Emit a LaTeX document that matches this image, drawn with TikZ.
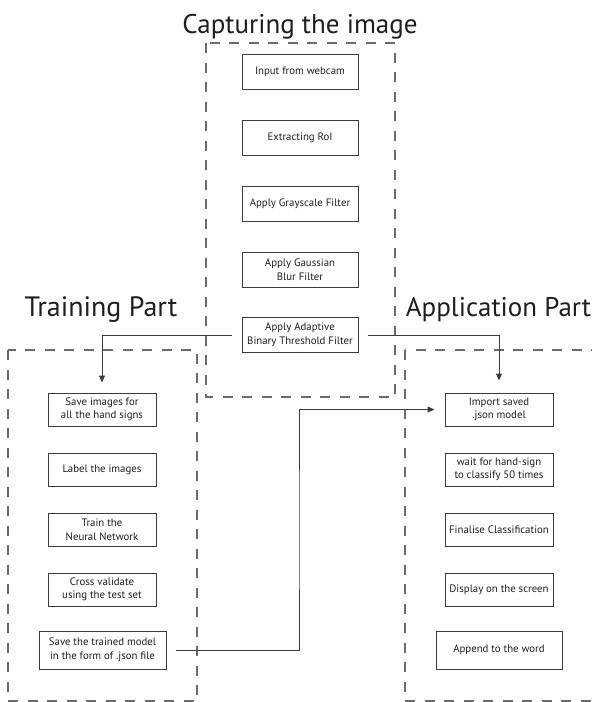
\documentclass[tikz,border=0pt]{standalone}
\usepackage{fontspec}
\setmainfont{PT Sans}
\usetikzlibrary{arrows.meta}
\definecolor{boxline}{HTML}{3C3C3C}
\definecolor{dashline}{HTML}{6A6A6A}
\definecolor{txt}{HTML}{1E1E1E}
\begin{document}
\begin{tikzpicture}[x=1pt,y=-1pt,
  stepbox/.style={draw=boxline,line width=1pt,rectangle,inner sep=1pt,align=center,
     font=\fontsize{10.8}{13.5}\selectfont,text=txt,minimum width=108pt,minimum height=33pt},
  capbox/.style={stepbox,minimum width=116pt,minimum height=35pt},
  title/.style={font=\fontsize{27}{30}\selectfont,text=txt,anchor=base,inner sep=0pt},
  frame/.style={draw=dashline,line width=1.1pt,dash pattern=on 10pt off 9.5pt},
  arr/.style={draw=boxline,line width=1pt,-{Triangle[length=7pt,width=6pt]}}]
\useasboundingbox (0,0) rectangle (592,702);
\begin{scope}
\clip (0,0) rectangle (592,702);
\draw[frame] (206,43) rectangle (395,397);
\draw[frame] (8,350) rectangle (197,701);
\draw[frame] (405,350) rectangle (620,701);
\end{scope}
\node[title] (tcap) at (300,33.5) {Capturing the image};
\node[title,font=\fontsize{28}{30}\selectfont] (ttrain) at (101,316) {Training Part};
\node[title] (tapp) at (498.5,316) {Application Part};
% capturing
\node[capbox] (webcam) at (300,71.5) {Input from webcam};
\node[capbox] (roi) at (300,137.5) {Extracting RoI};
\node[capbox] (gray) at (300,203.5) {Apply Grayscale Filter};
\node[capbox] (gauss) at (300,269.5) {Apply Gaussian\\Blur Filter};
\node[capbox] (adapt) at (300,335) {Apply Adaptive\\Binary Threshold Filter};
% training
\node[stepbox] (save1) at (102,409.5) {Save images for\\all the hand signs};
\node[stepbox] (label) at (102,469.5) {Label the images};
\node[stepbox] (trainnn) at (102,529.5) {Train the\\Neural Network};
\node[stepbox] (cross) at (102,589.5) {Cross validate\\using the test set};
\node[stepbox,minimum width=127pt,minimum height=38pt] (savemodel) at (102.5,650) {Save the trained model\\in the form of .json file};
% application
\node[stepbox] (import) at (499,409.5) {Import saved\\.json model};
\node[stepbox] (wait) at (499,469.5) {wait for hand-sign\\to classify 50 times};
\node[stepbox] (final) at (499,529.5) {Finalise Classification};
\node[stepbox] (display) at (499,589.5) {Display on the screen};
\node[stepbox,minimum width=126pt,minimum height=38pt] (append) at (499,650) {Append to the word};
% arrows
\draw[arr,shorten <=10pt,shorten >=10pt] (adapt.west) -| (save1.north);
\draw[arr,shorten <=9pt,shorten >=12pt] (adapt.east) -| (import.north);
\coordinate (bend) at (299,530);
\draw[arr,shorten <=9pt,shorten >=10pt] (savemodel.east) -| (bend) |- (import.west);
\end{tikzpicture}
\end{document}
